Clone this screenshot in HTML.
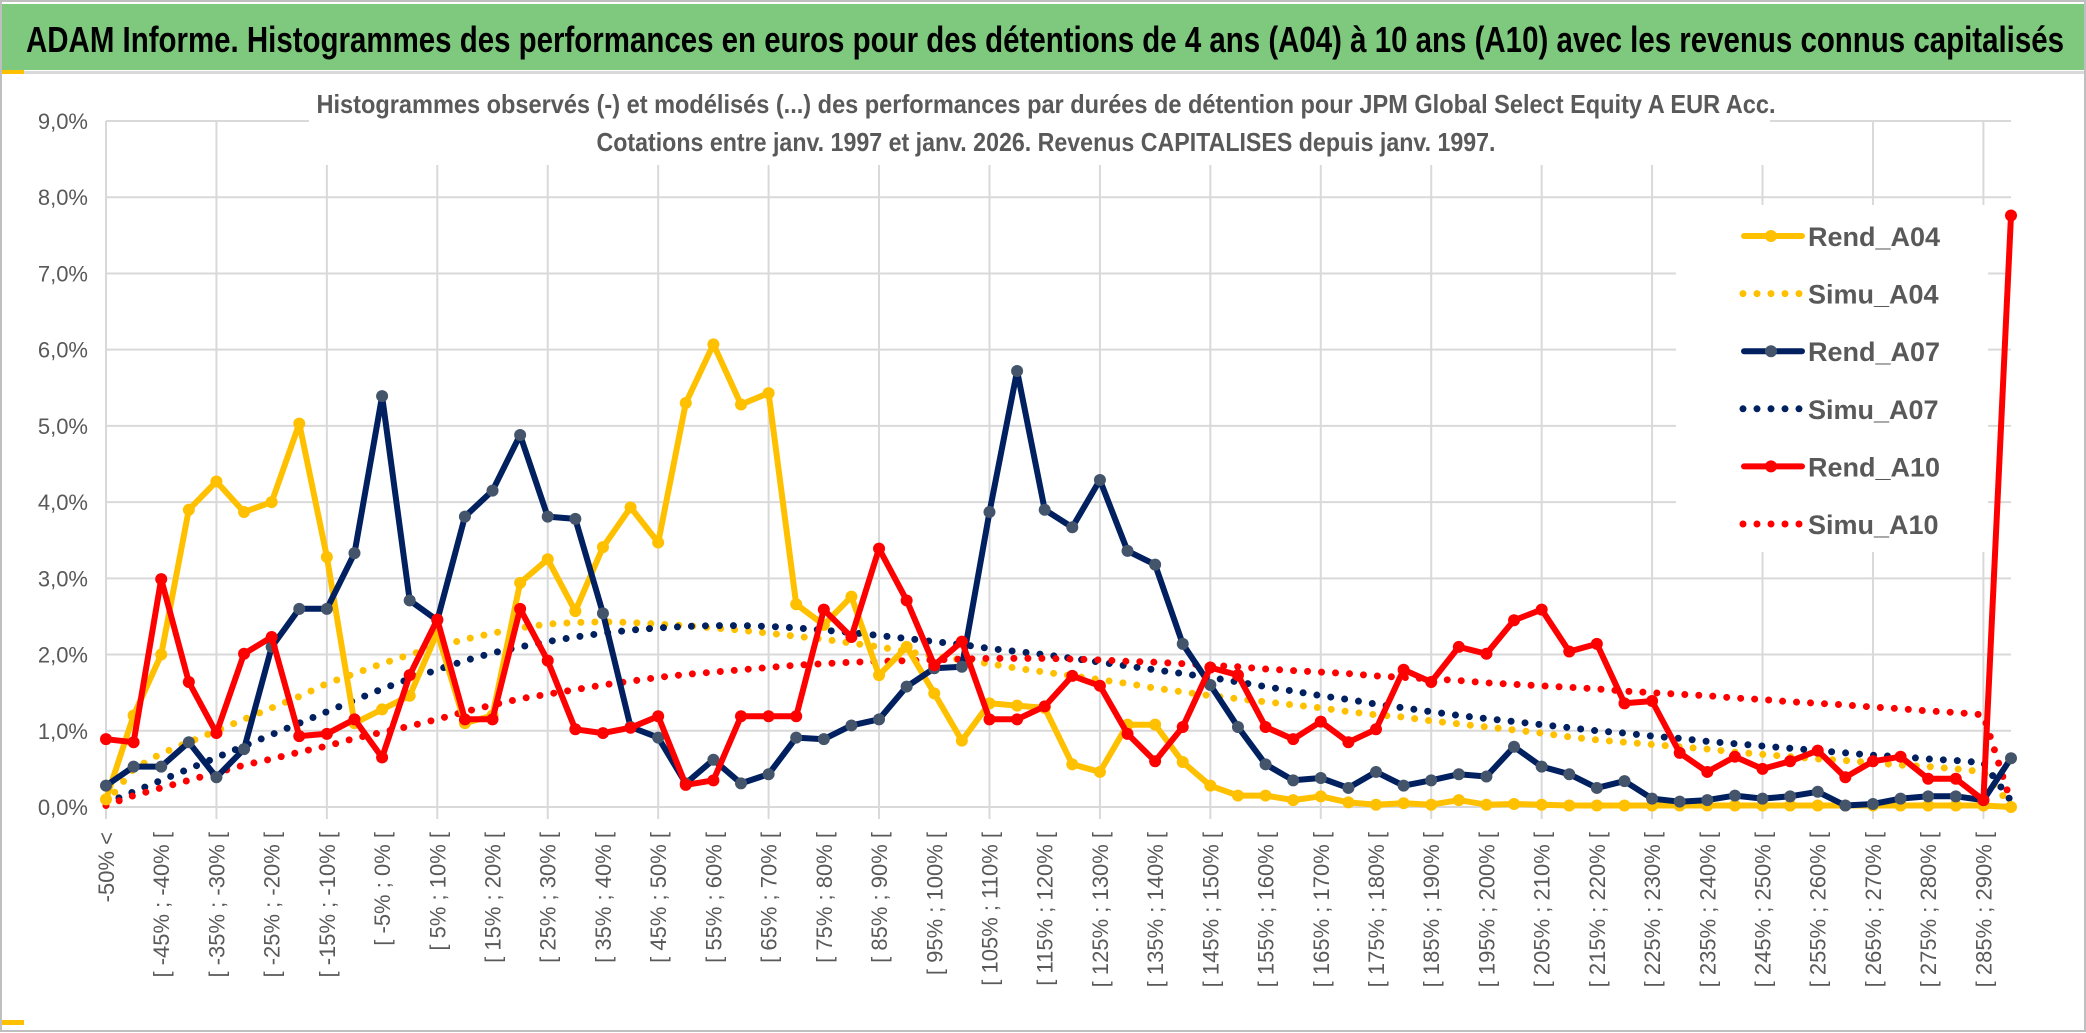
<!DOCTYPE html>
<html><head><meta charset="utf-8"><style>
html,body{margin:0;padding:0;background:#fff}
svg{display:block}
text{font-family:"Liberation Sans",sans-serif}
</style></head><body>
<svg id="chart" width="2086" height="1033" viewBox="0 0 2086 1033" xmlns="http://www.w3.org/2000/svg">
<rect x="0" y="0" width="2086" height="1033" fill="#fff"/>
<rect x="1" y="1" width="2084" height="1030" fill="none" stroke="#bfbfbf" stroke-width="2"/>
<rect x="2" y="4" width="2082" height="66" fill="#7fc97f"/>
<rect x="2" y="70" width="22" height="4" fill="#ffc000"/>
<rect x="24" y="71" width="2060" height="3" fill="#d9d9d9"/>
<text x="26" y="52" font-size="36" font-weight="bold" fill="#000" textLength="2038" lengthAdjust="spacingAndGlyphs">ADAM Informe. Histogrammes des performances en euros pour des détentions de 4 ans (A04) à 10 ans (A10) avec les revenus connus capitalisés</text>
<g id="grid"></g>
<rect x="309" y="100" width="1461" height="65" fill="#fff"/>
<text x="1046" y="113" text-anchor="middle" font-size="26" font-weight="bold" fill="#595959" textLength="1459" lengthAdjust="spacingAndGlyphs">Histogrammes observés (-) et modélisés (...) des performances par durées de détention pour JPM Global Select Equity A EUR Acc.</text>
<text x="1046" y="151" text-anchor="middle" font-size="26" font-weight="bold" fill="#595959" textLength="899" lengthAdjust="spacingAndGlyphs">Cotations entre janv. 1997 et janv. 2026. Revenus CAPITALISES depuis janv. 1997.</text>
<g id="yaxis"></g>
<g id="xaxis"></g>
<g id="series"></g>
<g id="legend"></g>
<rect x="2" y="1020" width="22" height="5" fill="#ffc000"/>
</svg>
<script>
const categories = ["-50% <"];
for (let s = -50; s <= 290; s += 5) categories.push("[ " + s + "% ; " + (s + 5) + "% [");
const yTicks = [0,1,2,3,4,5,6,7,8,9];
const yTickLabels = ["0,0%","1,0%","2,0%","3,0%","4,0%","5,0%","6,0%","7,0%","8,0%","9,0%"];
const rendA04 = [0.1,1.2,2.0,3.9,4.27,3.87,4.0,5.03,3.28,1.1,1.28,1.46,2.29,1.1,1.2,2.94,3.25,2.57,3.41,3.93,3.47,5.3,6.07,5.28,5.43,2.66,2.39,2.76,1.73,2.1,1.49,0.87,1.36,1.33,1.3,0.56,0.46,1.08,1.08,0.59,0.28,0.15,0.15,0.09,0.14,0.06,0.03,0.05,0.03,0.09,0.03,0.04,0.03,0.02,0.02,0.02,0.02,0.02,0.02,0.02,0.02,0.02,0.02,0.02,0.02,0.02,0.02,0.02,0.02,0.0];
const rendA07 = [0.28,0.53,0.53,0.85,0.39,0.76,2.1,2.6,2.6,3.33,5.39,2.71,2.45,3.81,4.15,4.88,3.81,3.78,2.54,1.05,0.91,0.31,0.62,0.31,0.43,0.91,0.89,1.07,1.15,1.58,1.82,1.84,3.87,5.72,3.9,3.67,4.29,3.36,3.18,2.14,1.6,1.05,0.56,0.35,0.38,0.25,0.46,0.28,0.35,0.43,0.4,0.79,0.53,0.43,0.25,0.34,0.11,0.07,0.09,0.15,0.11,0.14,0.2,0.02,0.04,0.11,0.14,0.14,0.09,0.64];
const rendA10 = [0.89,0.85,2.99,1.64,0.97,2.01,2.23,0.93,0.96,1.15,0.65,1.73,2.46,1.15,1.15,2.6,1.92,1.02,0.97,1.04,1.19,0.29,0.35,1.19,1.19,1.19,2.59,2.23,3.39,2.71,1.86,2.17,1.15,1.15,1.32,1.72,1.59,0.96,0.6,1.05,1.83,1.73,1.05,0.89,1.12,0.85,1.02,1.8,1.64,2.1,2.01,2.45,2.59,2.04,2.14,1.36,1.39,0.71,0.46,0.66,0.5,0.6,0.74,0.39,0.6,0.66,0.37,0.37,0.09,7.76];
const simuA04 = [0.05,0.5,0.7,0.85,1.0,1.15,1.3,1.45,1.62,1.75,1.88,2.0,2.1,2.2,2.28,2.35,2.4,2.42,2.43,2.42,2.4,2.38,2.35,2.32,2.28,2.24,2.2,2.15,2.1,2.04,1.98,1.93,1.88,1.82,1.77,1.72,1.67,1.62,1.56,1.51,1.46,1.42,1.38,1.34,1.3,1.25,1.21,1.18,1.13,1.09,1.05,1.01,0.97,0.92,0.88,0.85,0.82,0.79,0.76,0.72,0.69,0.66,0.63,0.61,0.58,0.55,0.53,0.5,0.46,0.02];
const simuA07 = [0.05,0.2,0.35,0.5,0.65,0.8,0.95,1.1,1.25,1.4,1.55,1.68,1.8,1.92,2.02,2.1,2.17,2.23,2.28,2.32,2.35,2.37,2.38,2.38,2.37,2.35,2.32,2.29,2.25,2.21,2.17,2.13,2.08,2.04,2.0,1.95,1.9,1.85,1.8,1.75,1.7,1.64,1.58,1.52,1.46,1.41,1.35,1.3,1.25,1.2,1.16,1.12,1.08,1.04,1.0,0.97,0.93,0.9,0.86,0.83,0.8,0.77,0.74,0.71,0.68,0.66,0.63,0.61,0.58,0.08];
const simuA10 = [0.02,0.15,0.25,0.35,0.45,0.55,0.63,0.72,0.8,0.9,0.98,1.06,1.15,1.25,1.34,1.42,1.48,1.54,1.6,1.65,1.7,1.74,1.77,1.8,1.83,1.86,1.88,1.9,1.91,1.92,1.93,1.94,1.95,1.95,1.95,1.94,1.93,1.91,1.9,1.88,1.86,1.84,1.81,1.79,1.77,1.75,1.72,1.7,1.68,1.66,1.63,1.61,1.59,1.57,1.55,1.52,1.5,1.48,1.46,1.43,1.41,1.38,1.36,1.34,1.31,1.29,1.26,1.24,1.21,0.06];
const seriesNames = ["Rend_A04","Simu_A04","Rend_A07","Simu_A07","Rend_A10","Simu_A10"];

const NS = "http://www.w3.org/2000/svg";
const X0 = 106, X1 = 2011, Y0 = 807, YTOP = 121, YMAX = 9;
function xPos(i){ return X0 + i * (X1 - X0) / (categories.length - 1); }
function yPos(v){ return Y0 - v * (Y0 - YTOP) / YMAX; }
function mk(tag, attrs, parent){ const e = document.createElementNS(NS, tag); for (const k in attrs) e.setAttribute(k, attrs[k]); parent.appendChild(e); return e; }

const grid = document.getElementById('grid');
yTicks.forEach(t => {
  const l = mk('line', {x1: X0, x2: X1, y1: yPos(t), y2: yPos(t), stroke: '#d9d9d9', 'stroke-width': 2}, grid);
  
  
});
for (let i = 0; i < categories.length; i += 4) {
  const l = mk('line', {x1: xPos(i), x2: xPos(i), y1: YTOP, y2: Y0 + 12, stroke: '#d9d9d9', 'stroke-width': 2}, grid);
  
  
}
const yaxis = document.getElementById('yaxis');
yTicks.forEach((t, k) => {
  const tx = mk('text', {x: 88, y: yPos(t) + 8, 'text-anchor': 'end', 'font-size': 22, fill: '#595959'}, yaxis);
  tx.textContent = yTickLabels[k];
  
  
});
const xaxis = document.getElementById('xaxis');
for (let i = 0; i < categories.length; i += 2) {
  const x = xPos(i) + 8, y = 832;
  const tx = mk('text', {x: x, y: y, 'text-anchor': 'end', 'font-size': 22, fill: '#595959', transform: 'rotate(-90 ' + x + ' ' + y + ')'}, xaxis);
  tx.textContent = categories[i];
  
  
}
const series = document.getElementById('series');
function pts(arr){ return arr.map((v, i) => xPos(i).toFixed(1) + ',' + yPos(v).toFixed(1)).join(' '); }
function dotted(arr, color, name){
  const p = mk('polyline', {points: pts(arr), fill: 'none', stroke: color, 'stroke-width': 7, 'stroke-linecap': 'round', 'stroke-dasharray': '0 14'}, series);
  
  
}
function solid(arr, color, mcolor, name){
  const g = mk('g', {}, series);
  
  
  mk('polyline', {points: pts(arr), fill: 'none', stroke: color, 'stroke-width': 6, 'stroke-linejoin': 'round'}, g);
  arr.forEach((v, i) => {
    const c = mk('circle', {cx: xPos(i), cy: yPos(v), r: 6, fill: mcolor}, g);
    
    
  });
}
dotted(simuA04, '#ffc000', 'simu-a04-line');
dotted(simuA07, '#002060', 'simu-a07-line');
dotted(simuA10, '#ff0000', 'simu-a10-line');
solid(rendA04, '#ffc000', '#ffc000', 'rend-a04-line');
solid(rendA07, '#002060', '#44546a', 'rend-a07-line');
solid(rendA10, '#ff0000', '#ff0000', 'rend-a10-line');

const legend = document.getElementById('legend');
mk('rect', {x: 1676, y: 205, width: 312, height: 347, fill: '#fff'}, legend);
const lColors = ['#ffc000','#ffc000','#002060','#002060','#ff0000','#ff0000'];
const lMark = ['#ffc000',null,'#44546a',null,'#ff0000',null];
seriesNames.forEach((n, k) => {
  const y = 236 + k * 57.6;
  const g = mk('g', {}, legend);
  
  
  if (k % 2 === 0) {
    mk('line', {x1: 1744, x2: 1802, y1: y, y2: y, stroke: lColors[k], 'stroke-width': 6, 'stroke-linecap': 'round'}, g);
    mk('circle', {cx: 1771, cy: y, r: 6, fill: lMark[k]}, g);
  } else {
    mk('line', {x1: 1743, x2: 1800, y1: y, y2: y, stroke: lColors[k], 'stroke-width': 7, 'stroke-linecap': 'round', 'stroke-dasharray': '0 14'}, g);
  }
  const t = mk('text', {x: 1808, y: y + 10, 'font-size': 27, 'font-weight': 'bold', fill: '#595959'}, g);
  t.textContent = n;
});
</script>
</body></html>
